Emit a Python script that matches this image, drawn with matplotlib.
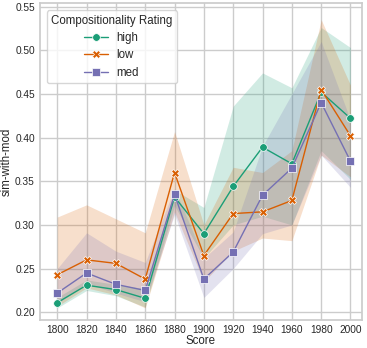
import matplotlib
matplotlib.use("Agg")
import matplotlib.pyplot as plt
import seaborn as sns

sns.set_theme(style="whitegrid")
plt.rcParams['font.family'] = ['Liberation Sans', 'DejaVu Sans']

years = [1800, 1820, 1840, 1860, 1880, 1900, 1920, 1940, 1960, 1980, 2000]

high_mean = [0.211, 0.231, 0.226, 0.216, 0.332, 0.290, 0.344, 0.389, 0.370, 0.452, 0.422]
high_lo = [0.205, 0.225, 0.219, 0.206, 0.322, 0.262, 0.300, 0.310, 0.300, 0.385, 0.352]
high_hi = [0.217, 0.237, 0.232, 0.227, 0.340, 0.320, 0.436, 0.474, 0.457, 0.526, 0.503]

low_mean = [0.243, 0.260, 0.256, 0.238, 0.360, 0.265, 0.313, 0.315, 0.328, 0.455, 0.402]
low_lo = [0.207, 0.228, 0.220, 0.205, 0.315, 0.235, 0.270, 0.285, 0.282, 0.380, 0.355]
low_hi = [0.309, 0.323, 0.307, 0.291, 0.407, 0.300, 0.366, 0.360, 0.385, 0.535, 0.460]

med_mean = [0.222, 0.245, 0.232, 0.225, 0.335, 0.238, 0.269, 0.334, 0.365, 0.440, 0.373]
med_lo = [0.210, 0.233, 0.222, 0.212, 0.312, 0.217, 0.250, 0.290, 0.300, 0.380, 0.343]
med_hi = [0.250, 0.291, 0.270, 0.257, 0.342, 0.262, 0.292, 0.390, 0.450, 0.510, 0.420]

series = [
    ("high", high_mean, high_lo, high_hi, "#1b9e77", "o"),
    ("low", low_mean, low_lo, low_hi, "#d95f02", "X"),
    ("med", med_mean, med_lo, med_hi, "#7570b3", "s"),
]

fig, ax = plt.subplots(figsize=(3.67, 3.48), dpi=100)

for name, m, lo, hi, c, mk in series:
    ax.fill_between(years, lo, hi, color=c, alpha=0.2, linewidth=0)
    ax.plot(years, m, color=c, marker=mk, markersize=5.5, linewidth=1,
            markeredgecolor="white", markeredgewidth=0.5, label=name)

ax.set_xticks(years)
ax.set_yticks([0.20, 0.25, 0.30, 0.35, 0.40, 0.45, 0.50, 0.55])
ax.set_xlim(1788, 2008)
ax.set_ylim(0.191, 0.5535)
ax.tick_params(labelsize=7.3, length=0, pad=3.5)
ax.set_xlabel("Score", fontsize=8.3, labelpad=0)
ax.set_ylabel("sim-with-mod", fontsize=8.3, labelpad=1.5)

leg = ax.legend(title="Compositionality Rating", loc="upper left", fontsize=8.3,
                title_fontsize=8.3, labelspacing=0.45, borderaxespad=0.6)

fig.subplots_adjust(left=0.108, right=0.987, top=0.99, bottom=0.08)
fig.savefig("out.png", dpi=100)
